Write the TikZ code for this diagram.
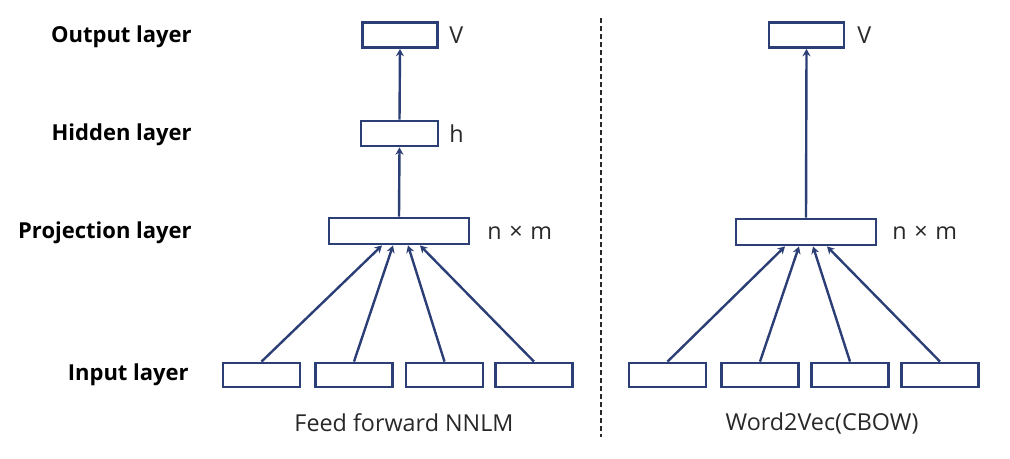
\documentclass[tikz,border=0pt]{standalone}
\usepackage{fontspec}
\setmainfont{Open Sans}
\usetikzlibrary{arrows.meta,calc}
\definecolor{navy}{RGB}{44,62,118}
\definecolor{txt}{RGB}{40,40,40}
\tikzset{
  layerbox/.style={draw=navy,line width=2.1pt,fill=white,inner sep=0pt},
  conn/.style={draw=navy,line width=1.8pt,-{Stealth[length=5.5pt,width=6pt]}},
  lbl/.style={font=\fontsize{16.5}{20}\selectfont\bfseries,text=black,anchor=east,inner sep=0pt},
  dimtext/.style={font=\fontsize{17.5}{20}\selectfont,text=txt,anchor=west,inner sep=0pt},
  captext/.style={font=\fontsize{17.5}{20}\selectfont,text=txt,inner sep=0pt},
}
\begin{document}
\begin{tikzpicture}[x=0.75pt,y=-0.75pt]
\useasboundingbox[fill=white] (0,0) rectangle (1010,458);
% labels
\node[lbl] (lo) at (192,37) {Output layer};
\node[lbl] (lh) at (192,135) {Hidden layer};
\node[lbl] (lp) at (192,233) {Projection layer};
\node[lbl] (li) at (189,375) {Input layer};
% left network
\node[layerbox,minimum width=75*0.75pt,minimum height=25*0.75pt] (Lout) at (400,35) {};
\node[layerbox,minimum width=77*0.75pt,minimum height=25*0.75pt] (Lhid) at (399.5,133.5) {};
\node[layerbox,minimum width=140*0.75pt,minimum height=26*0.75pt] (Lproj) at (399,231) {};
\foreach \i/\x in {1/261.5,2/354,3/444.5,4/534}
  \node[layerbox,minimum width=77*0.75pt,minimum height=24*0.75pt] (Lin\i) at (\x,375) {};
\draw[conn] (Lhid.north) -- (Lout.south);
\draw[conn] (Lproj.north) -- (Lhid.south);
\draw[conn] (Lin1.north) -- ($(Lproj.south)+(-17,0)$);
\draw[conn] (Lin2.north) -- ($(Lproj.south)+(-6,0)$);
\draw[conn] (Lin3.north) -- ($(Lproj.south)+(9,0)$);
\draw[conn] (Lin4.north) -- ($(Lproj.south)+(21,0)$);
\node[dimtext] (Lv) at (449,35) {V};
\node[dimtext] (Lh) at (449,134) {h};
\node[dimtext] (Lnm) at (487,233) {n\,\,×\,\,m};
\node[captext] (Lcap) at (404,423) {Feed forward NNLM};
% divider
\coordinate (dtop) at (601,18);
\coordinate (dbot) at (601,437);
\draw[txt,line width=1.3pt,dash pattern=on 3.5pt off 2.5pt] (dtop) -- (dbot);
% right network
\node[layerbox,minimum width=75*0.75pt,minimum height=25*0.75pt] (Rout) at (806.5,35) {};
\node[layerbox,minimum width=140*0.75pt,minimum height=26*0.75pt] (Rproj) at (806,232) {};
\foreach \i/\x in {1/667.5,2/760,3/850,4/940}
  \node[layerbox,minimum width=77*0.75pt,minimum height=24*0.75pt] (Rin\i) at (\x,375) {};
\draw[conn] (Rproj.north) -- (Rout.south);
\draw[conn] (Rin1.north) -- ($(Rproj.south)+(-21,0)$);
\draw[conn] (Rin2.north) -- ($(Rproj.south)+(-7,0)$);
\draw[conn] (Rin3.north) -- ($(Rproj.south)+(7,0)$);
\draw[conn] (Rin4.north) -- ($(Rproj.south)+(21,0)$);
\node[dimtext] (Rv) at (857,35) {V};
\node[dimtext] (Rnm) at (892,233) {n\,\,×\,\,m};
\node[captext] (Rcap) at (822,423) {Word2Vec(CBOW)};
\end{tikzpicture}
\end{document}
